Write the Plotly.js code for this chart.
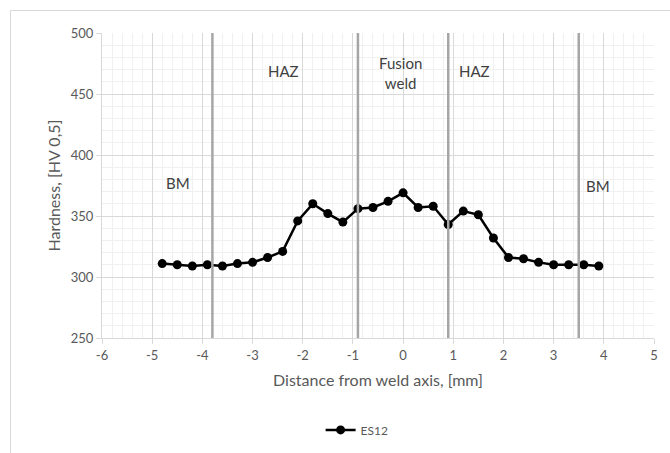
<!DOCTYPE html>
<html>
<head>
<meta charset="utf-8">
<script src="https://cdn.plot.ly/plotly-3.0.1.min.js"></script>
<style>
  html, body { margin: 0; padding: 0; background: #fff; }
  #wrap { position: relative; width: 670px; height: 453px; overflow: hidden; }
  #frame { position: absolute; left: 10px; top: 10px; width: 700px; height: 500px;
           border-left: 1px solid #d9d9d9; border-top: 1px solid #d9d9d9; pointer-events: none; }
  #chart { position: absolute; left: 0; top: 0; width: 670px; height: 453px; }
</style>
</head>
<body>
<div id="wrap">
  <div id="chart"></div>
  <div id="frame"></div>
</div>
<script>
// Data
const distance = [-4.8, -4.5, -4.2, -3.9, -3.6, -3.3, -3.0, -2.7, -2.4, -2.1,
                  -1.8, -1.5, -1.2, -0.9, -0.6, -0.3, 0.0, 0.3, 0.6, 0.9,
                  1.2, 1.5, 1.8, 2.1, 2.4, 2.7, 3.0, 3.3, 3.6, 3.9];
const hardness = [311, 310, 309, 310, 309, 311, 312, 316, 321, 346,
                  360, 352, 345, 356, 357, 362, 369, 357, 358, 343,
                  354, 351, 332, 316, 315, 312, 310, 310, 310, 309];
const seriesName = "ES12";

const zoneBoundaries = [-3.8, -0.9, 0.9, 3.5];
const zoneLabels = ["BM", "HAZ", "Fusion<br>weld", "HAZ", "BM"];
const zoneLabelX = [-4.48, -2.39, -0.06, 1.43, 3.88];
const zoneLabelY = [377, 469, 467, 469, 375];

const xTicks = [-6, -5, -4, -3, -2, -1, 0, 1, 2, 3, 4, 5];
const yTicks = [250, 300, 350, 400, 450, 500];

const FONT = "Lato, 'Open Sans', sans-serif";

const trace = {
  x: distance,
  y: hardness,
  type: "scatter",
  mode: "lines+markers",
  name: seriesName,
  line: { color: "#000000", width: 2.5 },
  marker: { color: "#000000", size: 9 }
};

const shapes = zoneBoundaries.map(b => ({
  type: "line", xref: "x", yref: "paper",
  x0: b, x1: b, y0: 0, y1: 1,
  line: { color: "#a6a6a6", width: 2.5 },
  layer: "above"
}));

const annotations = zoneLabels.map((t, i) => ({
  x: zoneLabelX[i], y: zoneLabelY[i], xref: "x", yref: "y",
  text: t, showarrow: false,
  font: { family: FONT, size: 15, color: "#404040" },
  align: "center"
}));

const layout = {
  width: 670, height: 453,
  margin: { l: 102, r: 16, t: 33, b: 115, autoexpand: false },
  paper_bgcolor: "rgba(0,0,0,0)",
  plot_bgcolor: "#ffffff",
  font: { family: FONT, color: "#595959", size: 13 },
  showlegend: true,
  legend: {
    orientation: "h", xref: "container", yref: "container",
    x: 0.533, xanchor: "center", y: 0.051, yanchor: "middle",
    font: { family: FONT, size: 12, color: "#595959" }
  },
  xaxis: {
    range: [-6, 5],
    automargin: false,
    tickvals: xTicks,
    ticktext: xTicks.map(String),
    showgrid: true, gridcolor: "#d9d9d9", gridwidth: 1,
    minor: { dtick: 0.2, showgrid: true, gridcolor: "#f0f0f0", gridwidth: 1 },
    showline: true, linecolor: "#d9d9d9", linewidth: 1,
    ticks: "outside", ticklen: 5, tickcolor: "#d9d9d9",
    zeroline: false,
    tickfont: { family: FONT, size: 13, color: "#595959" },
    title: { text: "Distance from weld axis, [mm]", font: { family: FONT, size: 16, color: "#595959" }, standoff: 13 }
  },
  yaxis: {
    range: [250, 500],
    automargin: false,
    tickvals: yTicks,
    ticktext: yTicks.map(String),
    showgrid: true, gridcolor: "#d9d9d9", gridwidth: 1,
    minor: { dtick: 10, showgrid: true, gridcolor: "#f0f0f0", gridwidth: 1 },
    showline: true, linecolor: "#d9d9d9", linewidth: 1,
    ticks: "outside", ticklen: 5, tickcolor: "#d9d9d9",
    zeroline: false,
    tickfont: { family: FONT, size: 13, color: "#595959" },
    title: { text: "Hardness, [HV 0,5]", font: { family: FONT, size: 16, color: "#595959" }, standoff: 6 }
  },
  shapes: shapes,
  annotations: annotations
};

Plotly.newPlot("chart", [trace], layout, { displayModeBar: false, staticPlot: true });
</script>
</body>
</html>
